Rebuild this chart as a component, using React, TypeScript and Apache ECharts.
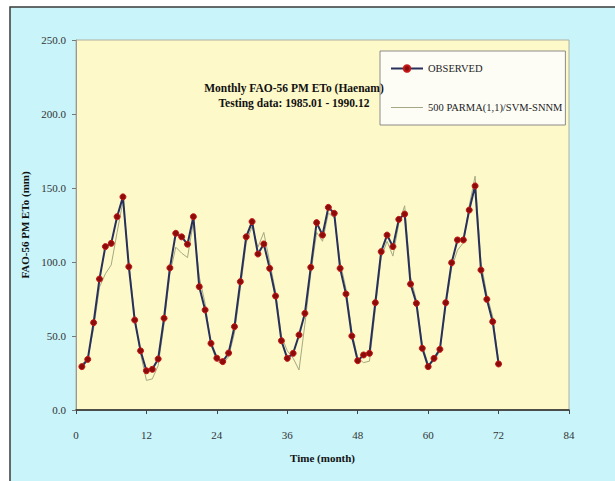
import React, { useEffect, useRef } from "react";
import * as echarts from "echarts";

const months: number[] = Array.from({ length: 72 }, (_, i) => i + 1);

const observed: number[] = [
  29.3, 34.2, 59.0, 88.5, 110.4, 112.6, 130.6, 144.0, 96.8, 60.8, 40.0, 26.5,
  27.5, 34.5, 62.0, 96.0, 119.4, 117.0, 112.0, 130.6, 83.3, 67.6, 45.0, 35.0,
  32.7, 38.5, 56.3, 86.7, 117.0, 127.3, 105.4, 112.2, 95.7, 77.0, 46.8, 34.9,
  38.3, 50.7, 65.3, 96.4, 126.6, 118.2, 136.9, 132.9, 95.7, 78.4, 50.0, 33.3,
  37.2, 38.3, 72.5, 107.0, 118.2, 110.4, 128.8, 132.4, 85.1, 72.1, 41.7, 29.3,
  34.9, 41.0, 72.5, 99.5, 114.9, 114.9, 135.1, 151.4, 94.6, 74.8, 59.7, 31.1,
];

const predicted: number[] = [
  31, 35, 55, 83, 92, 98, 120, 141, 100, 63, 38, 20,
  21, 30, 58, 92, 110, 106, 103, 127, 90, 72, 44, 33,
  31, 36, 52, 82, 113, 124, 110, 120, 100, 80, 50, 40,
  35, 27, 58, 92, 120, 114, 133, 130, 100, 82, 53, 35,
  32, 33, 68, 103, 114, 104, 126, 138, 90, 74, 44, 31,
  33, 40, 70, 96, 108, 113, 138, 158, 100, 78, 63, 33,
];

const seriesNames: string[] = ["OBSERVED", "500 PARMA(1,1)/SVM-SNNM"];
const titleLines: string[] = [
  "Monthly FAO-56 PM ETo (Haenam)",
  "Testing data: 1985.01 - 1990.12",
];
const xAxisName = "Time (month)";
const yAxisName = "FAO-56 PM ETo (mm)";

const SERIF = "'Liberation Serif', 'DejaVu Serif', serif";
const OBS_LINE = "#27305a";
const PRED_LINE = "#a4a884";

export default function App() {
  const ref = useRef<HTMLDivElement>(null);
  useEffect(() => {
    if (!ref.current) return;
    const chart = echarts.init(ref.current, null, { renderer: "svg" });
    chart.setOption({
      animation: false,
      backgroundColor: "#ffffff",
      graphic: [
        {
          type: "rect",
          z: -10,
          shape: { x: 10, y: 7, width: 620, height: 490 },
          style: { fill: "#c8f4fa", stroke: "#3a3a3a", lineWidth: 1.5 },
        },
      ],
      title: {
        text: titleLines.join("\n"),
        left: 289,
        top: 75,
        textAlign: "center",
        textStyle: {
          fontFamily: SERIF,
          fontSize: 11.5,
          fontWeight: "bold",
          color: "#111",
          lineHeight: 15,
        },
      },
      legend: {
        orient: "vertical",
        left: 380,
        top: 51,
        padding: [12, 3, 12, 10],
        itemGap: 28,
        itemWidth: 32,
        itemHeight: 8,
        backgroundColor: "#fdfdf6",
        borderColor: "#8a8a8a",
        borderWidth: 1,
        textStyle: { fontFamily: SERIF, fontSize: 10.5, color: "#222" },
        data: [
          { name: seriesNames[0] },
          {
            name: seriesNames[1],
            icon: "path://M0 0H32V1H0Z",
            itemStyle: { color: PRED_LINE },
          },
        ],
      },
      grid: {
        left: 76,
        right: 46,
        top: 40,
        bottom: 71,
        show: true,
        backgroundColor: "#fdf9c8",
        borderColor: "#b0b0a0",
        borderWidth: 1,
      },
      xAxis: {
        type: "value",
        min: 0,
        max: 84,
        interval: 12,
        name: xAxisName,
        nameLocation: "middle",
        nameGap: 42,
        nameTextStyle: {
          fontFamily: SERIF,
          fontSize: 11,
          fontWeight: "bold",
          color: "#111",
        },
        axisLine: { lineStyle: { color: "#222", width: 1.5 } },
        axisTick: { length: 4, lineStyle: { color: "#444" } },
        axisLabel: { fontFamily: SERIF, fontSize: 11, color: "#333", margin: 19 },
        splitLine: { show: false },
      },
      yAxis: {
        type: "value",
        min: 0,
        max: 250,
        interval: 50,
        name: yAxisName,
        nameLocation: "middle",
        nameGap: 37,
        nameRotate: 90,
        nameTextStyle: {
          fontFamily: SERIF,
          fontSize: 11,
          fontWeight: "bold",
          color: "#111",
        },
        axisLine: { show: true, lineStyle: { color: "#999" } },
        axisTick: { show: true, length: 4, lineStyle: { color: "#777" } },
        axisLabel: {
          fontFamily: SERIF,
          fontSize: 11,
          color: "#333",
          margin: 10,
          formatter: (v: number) => v.toFixed(1),
        },
        splitLine: { show: false },
      },
      series: [
        {
          name: seriesNames[0],
          type: "line",
          data: months.map((m, i) => [m, observed[i]]),
          symbol: "circle",
          symbolSize: 6,
          showSymbol: true,
          lineStyle: { color: OBS_LINE, width: 2 },
          itemStyle: { color: "#8c0c0c", borderColor: "#c41818", borderWidth: 1 },
          z: 3,
        },
        {
          name: seriesNames[1],
          type: "line",
          data: months.map((m, i) => [m, predicted[i]]),
          symbol: "none",
          showSymbol: false,
          lineStyle: { color: PRED_LINE, width: 1 },
          itemStyle: { color: PRED_LINE },
          z: 2,
        },
      ],
    });
    return () => chart.dispose();
  }, []);
  return (
    <div
      ref={ref}
      style={{ position: "fixed", left: 0, top: 0, width: 615, height: 481 }}
    />
  );
}
